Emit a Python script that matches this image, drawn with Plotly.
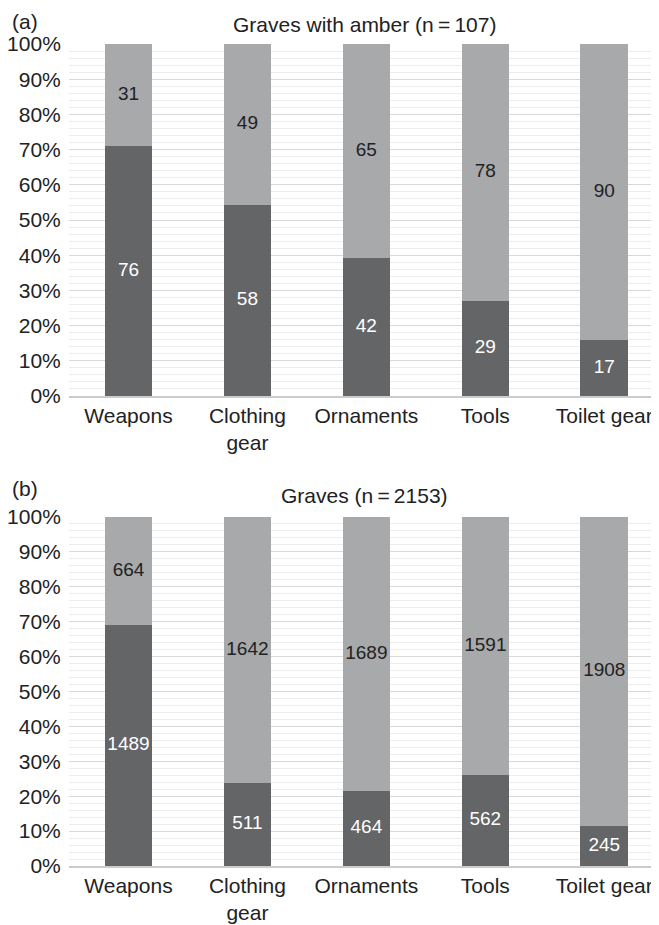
import plotly.graph_objects as go

categories = ["Weapons", "Clothing<br>gear", "Ornaments", "Tools", "Toilet gear"]

a_with = [76, 58, 42, 29, 17]
a_without = [31, 49, 65, 78, 90]
b_with = [1489, 511, 464, 562, 245]
b_without = [664, 1642, 1689, 1591, 1908]

title_a = "Graves with amber (n\u2009=\u2009107)"
title_b = "Graves (n\u2009=\u20092153)"

DARK = "#646567"
LIGHT = "#a8a9ab"
FONT = "Liberation Sans, Arial, sans-serif"

# the page body has an 8px margin, so the figure is drawn 8px smaller
OFF = 8
W = 659.0 - OFF
H = 925.0 - OFF
LEFT = 69 - OFF

fig = go.Figure()

def add_pair(dark_vals, light_vals, xa, ya):
    fig.add_trace(go.Bar(x=categories, y=dark_vals,
                         marker=dict(color=DARK, line=dict(width=0)),
                         width=0.4, xaxis=xa, yaxis=ya, showlegend=False))
    fig.add_trace(go.Bar(x=categories, y=light_vals,
                         marker=dict(color=LIGHT, line=dict(width=0)),
                         width=0.4, xaxis=xa, yaxis=ya, showlegend=False))
    totals = [d + l for d, l in zip(dark_vals, light_vals)]
    dark_mid = [100.0 * d / t / 2 for d, t in zip(dark_vals, totals)]
    light_mid = [100.0 * (d + l / 2) / t for d, l, t in zip(dark_vals, light_vals, totals)]
    fig.add_trace(go.Scatter(x=categories, y=dark_mid, text=[str(v) for v in dark_vals],
                             mode="text", textposition="middle center",
                             textfont=dict(color="white", size=19, family=FONT),
                             xaxis=xa, yaxis=ya, showlegend=False, hoverinfo="skip"))
    fig.add_trace(go.Scatter(x=categories, y=light_mid, text=[str(v) for v in light_vals],
                             mode="text", textposition="middle center",
                             textfont=dict(color="#222222", size=19, family=FONT),
                             xaxis=xa, yaxis=ya, showlegend=False, hoverinfo="skip"))

add_pair(a_with, a_without, "x", "y")
add_pair(b_with, b_without, "x2", "y2")

yax = dict(range=[0, 100], dtick=10, ticksuffix="%", showgrid=True, gridcolor="#d9d9d9",
           gridwidth=1, zeroline=False, ticks="outside", ticklen=3, tickcolor="rgba(0,0,0,0)",
           tickfont=dict(size=21, color="#222222", family=FONT), automargin=False,
           minor=dict(dtick=2, showgrid=True, gridcolor="#ededed", gridwidth=1),
           fixedrange=True)
xax = dict(range=[-0.5, 4.46], showgrid=False, showline=True, linecolor="#cccccc", linewidth=1.5,
           ticks="", automargin=False,
           tickfont=dict(size=21, color="#222222", family=FONT), fixedrange=True)

def dom(top_px, bot_px):
    return [1 - (bot_px - OFF) / H, 1 - (top_px - OFF) / H]

fig.update_layout(
    width=W, height=H,
    margin=dict(l=LEFT, r=0, t=0, b=0),
    barmode="stack", barnorm="percent",
    plot_bgcolor="white", paper_bgcolor="white",
    font=dict(family=FONT, color="#222222"),
    xaxis=dict(**xax, anchor="y"),
    yaxis=dict(**yax, domain=dom(44, 396), anchor="x"),
    xaxis2=dict(**xax, anchor="y2"),
    yaxis2=dict(**yax, domain=dom(517, 866), anchor="x2"),
)

def ann(text, xpx, ypx, center=False, anchor="middle"):
    d = dict(text=text, showarrow=False, yref="paper", y=1 - (ypx - OFF) / H, yanchor=anchor,
             font=dict(size=21, family=FONT, color="#222222"))
    if center:
        d.update(xref="paper", x=0.5, xanchor="center")
    else:
        d.update(xref="paper", x=(max(xpx - OFF, 0) - LEFT) / (W - LEFT), xanchor="left")
    return d

fig.update_layout(annotations=[
    ann(title_a, 0, 25, center=True),
    ann("(a)", 10, 8, anchor="top"),
    ann(title_b, 0, 495, center=True),
    ann("(b)", 10, 488),
])

fig.write_html("out.html")
